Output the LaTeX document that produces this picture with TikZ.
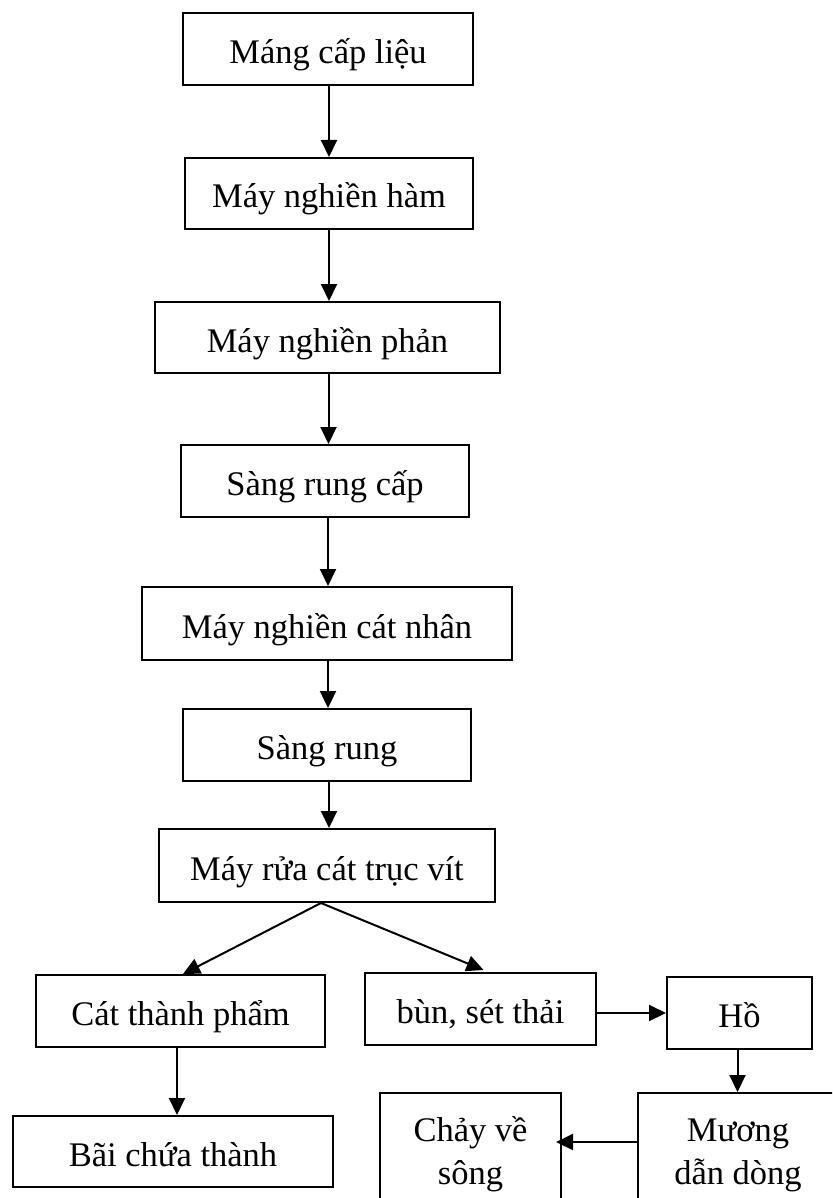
\documentclass[tikz,border=0pt]{standalone}
\usepackage{fontspec}
\setmainfont{Liberation Serif}
\usetikzlibrary{arrows.meta}
\begin{document}
\begin{tikzpicture}[x=1pt,y=-1pt,
  box/.style={draw,line width=2pt,rectangle,inner sep=0pt,
    font=\fontsize{34.5}{43}\selectfont,text height=33pt,text depth=4pt},
  twoline/.style={box,align=center,text height=76pt,text depth=3pt},
  arr/.style={line width=2pt,-{Triangle[length=17pt,width=16pt]}}]
\useasboundingbox (0,0) rectangle (832,1198);
\clip (0,0) rectangle (832,1198);
% main processing chain
\node[box,minimum width=290pt,minimum height=72pt] (m1) at (328,49) {Máng cấp liệu};
\node[box,minimum width=288pt,minimum height=71pt] (m2) at (329,193.5) {Máy nghiền hàm};
\node[box,minimum width=345pt,minimum height=71pt] (m3) at (327.5,337.5) {Máy nghiền phản};
\node[box,minimum width=288pt,minimum height=72pt] (m4) at (325,481) {Sàng rung cấp};
\node[box,minimum width=370pt,minimum height=73pt] (m5) at (327,623.5) {Máy nghiền cát nhân};
\node[box,minimum width=288pt,minimum height=72pt] (m6) at (327,745) {Sàng rung};
\node[box,minimum width=336pt,minimum height=73pt] (m7) at (327,865.5) {Máy rửa cát trục vít};
% products and waste branch
\node[box,minimum width=289pt,minimum height=72pt] (m8) at (180.5,1011) {Cát thành phẩm};
\node[box,minimum width=231pt,minimum height=72pt] (m9) at (480.5,1009) {bùn, sét thải};
\node[box,minimum width=145pt,minimum height=72pt] (m10) at (739.5,1013) {Hồ};
\node[box,minimum width=320pt,minimum height=71pt] (m11) at (173,1151.5) {Bãi chứa thành};
\node[twoline,minimum width=181pt,minimum height=109pt] (m12) at (470.5,1147.5) {Chảy về\\sông};
\node[twoline,minimum width=200pt,minimum height=109pt] (m13) at (738,1147.5) {Mương\\dẫn dòng};
% connectors
\draw[arr] ([xshift=1pt]m1.south) -- ([xshift=1pt]m1.south |- m2.north);
\draw[arr] (m2.south) -- (m2.south |- m3.north);
\draw[arr] ([xshift=1pt]m3.south) -- ([xshift=1pt]m3.south |- m4.north);
\draw[arr] ([xshift=3pt]m4.south) -- ([xshift=3pt]m4.south |- m5.north);
\draw[arr] ([xshift=1pt]m5.south) -- ([xshift=1pt]m5.south |- m6.north);
\draw[arr] ([xshift=2pt]m6.south) -- ([xshift=2pt]m6.south |- m7.north);
\draw[arr] ([xshift=-6pt]m7.south) -- ([xshift=2.5pt]m8.north);
\draw[arr] ([xshift=-6pt]m7.south) -- ([xshift=3pt,yshift=2pt]m9.north);
\draw[arr] ([xshift=-3.5pt]m8.south) -- ([xshift=-3.5pt]m8.south |- m11.north);
\draw[arr] (m10.west -| m9.east) -- (m10.west);
\draw[arr] ([xshift=-2pt]m10.south) -- ([xshift=-2pt]m10.south |- m13.north);
\draw[arr] ([yshift=5.5pt]m13.west) -- ([yshift=5.5pt,xshift=-6pt]m12.east);
\end{tikzpicture}
\end{document}
